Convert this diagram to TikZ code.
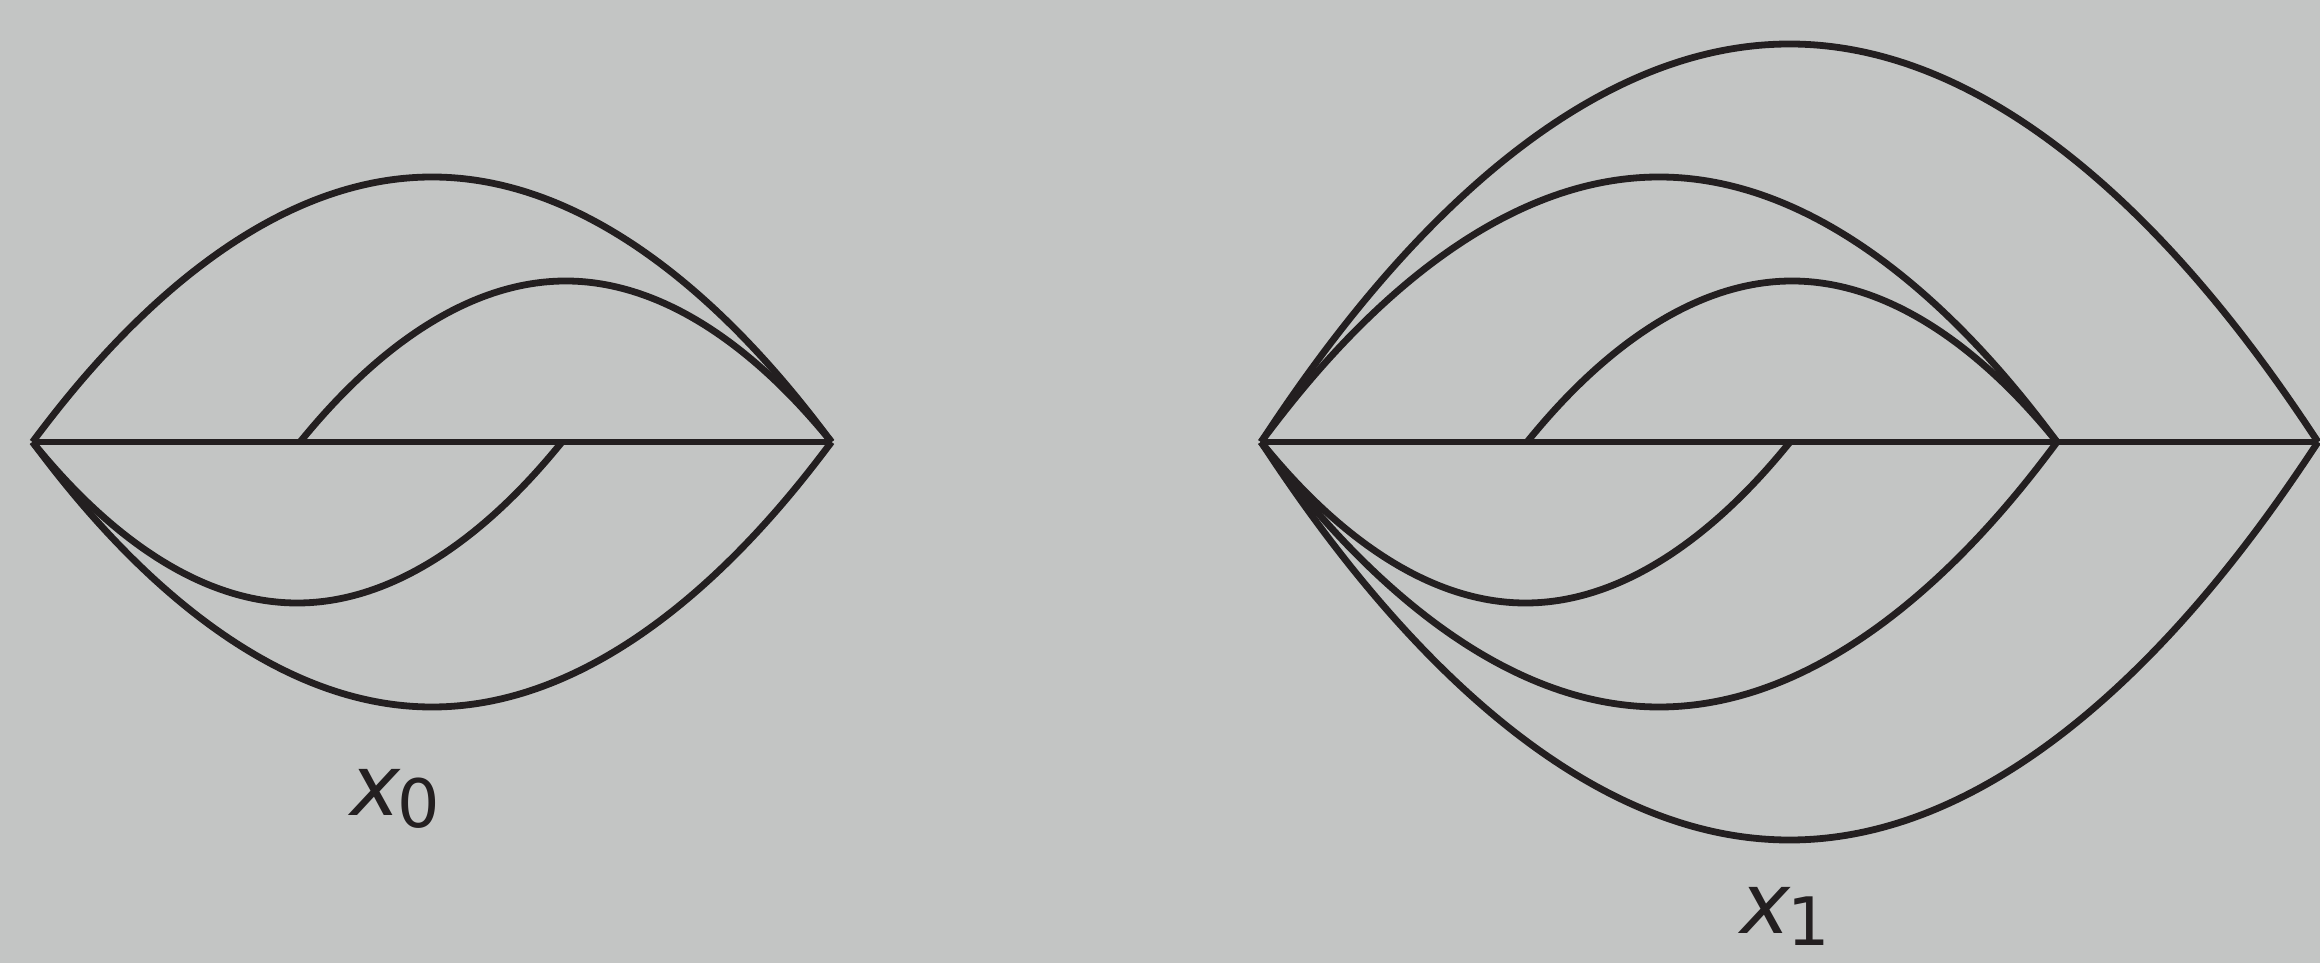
\documentclass[tikz,border=0pt]{standalone}
\usepackage{fontspec}
\usepackage{tikz}
\usetikzlibrary{calc}
\newfontfamily\lblfont{DejaVu Sans}
\definecolor{bggray}{RGB}{195,197,196}
\definecolor{inkblk}{RGB}{35,31,32}
\newcommand{\xsub}[1]{{\lblfont\itshape x}\kern-0.3mm\raisebox{-1.2mm}{\fontsize{19}{19}\selectfont\lblfont #1}}
\newcommand{\arch}[3]{\draw[crv] (#1) parabola bend ($(#1)!0.5!(#2)+(0,#3)$) (#2);}
\tikzset{
  crv/.style={inkblk, line width=0.68mm},
  axl/.style={inkblk, line width=0.65mm},
  lbl/.style={font=\fontsize{24}{26}\selectfont, text=inkblk, inner sep=0pt, anchor=base west},
}

\begin{document}
\begin{tikzpicture}[x=0.1mm,y=0.1mm]
\fill[bggray] (0,0) rectangle (2320,963);
\useasboundingbox (0,0) rectangle (2320,963);
\foreach \n/\px in {0/32.5,1/300,2/562,3/831.5}{\coordinate (l\n) at (\px,521);}
\foreach \n/\px in {0/1261,1/1527,2/1790,3/2057,4/2318}{\coordinate (r\n) at (\px,521);}
\draw[axl] (l0) -- (l3);
\arch{l0}{l3}{265} \arch{l0}{l3}{-265}
\arch{l1}{l3}{161} \arch{l0}{l2}{-161}
\draw[axl] (r0) -- (r4);
\arch{r0}{r4}{398} \arch{r0}{r4}{-398}
\arch{r0}{r3}{265} \arch{r0}{r3}{-265}
\arch{r1}{r3}{161} \arch{r0}{r2}{-161}
\node[lbl] (lab0) at (350,148) {\xsub{0}};
\node[lbl] (lab1) at (1740,30) {\xsub{1}};
\end{tikzpicture}
\end{document}
